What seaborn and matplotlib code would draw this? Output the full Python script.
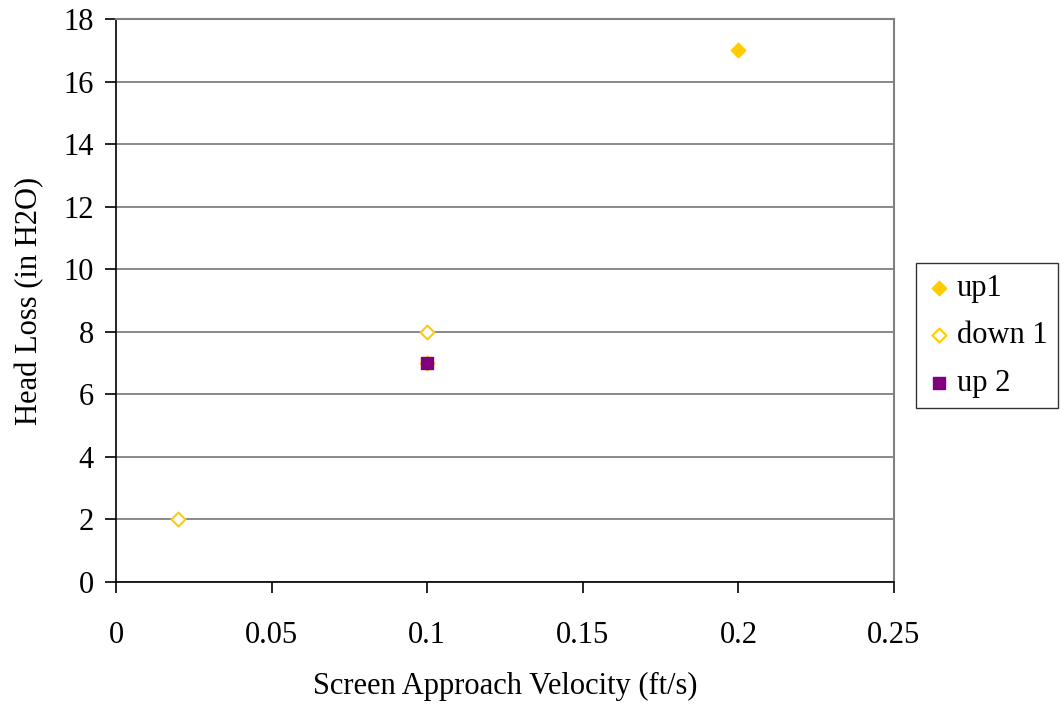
import numpy as np
import pandas as pd
import matplotlib
matplotlib.use('Agg')
import matplotlib.pyplot as plt
import seaborn as sns

sns.set_theme(style='white')
plt.rcParams['font.family'] = ['Liberation Serif', 'DejaVu Serif']
plt.rcParams['text.color'] = 'black'
plt.rcParams['axes.labelcolor'] = 'black'
plt.rcParams['xtick.color'] = 'black'
plt.rcParams['ytick.color'] = 'black'

# data
up1_x = [0.1, 0.2]
up1_y = [7, 17]
down1_x = [0.02, 0.1]
down1_y = [2, 8]
up2_x = [0.1]
up2_y = [7]

yellow = '#FFCC00'
purple = '#800080'

fig = plt.figure(figsize=(10.61, 7.04), dpi=100)
ax = fig.add_axes([0.1093, 0.1733, 0.8426 - 0.1093, 0.973 - 0.1733])

sns.scatterplot(x=up1_x, y=up1_y, ax=ax, marker='D', s=55, color=yellow,
                edgecolor=yellow, linewidth=1, label='up1', zorder=3)
sns.scatterplot(x=down1_x, y=down1_y, ax=ax, marker='D', s=50, facecolor='white',
                edgecolor=yellow, linewidth=1.5, label='down 1', zorder=3)
sns.scatterplot(x=up2_x, y=up2_y, ax=ax, marker='s', s=80, color=purple,
                edgecolor=purple, linewidth=1, label='up 2', zorder=4)

ax.set_xlim(0, 0.25)
ax.set_ylim(0, 18)
ax.set_xticks(np.arange(0, 0.26, 0.05))
ax.set_xticklabels(['0', '0.05', '0.1', '0.15', '0.2', '0.25'])
ax.set_yticks(np.arange(0, 19, 2))
ax.yaxis.grid(True, color='#808080', linewidth=1.3)
ax.set_axisbelow(True)

for side in ['top', 'right']:
    ax.spines[side].set_color('#808080')
    ax.spines[side].set_linewidth(1.5)
for side in ['left', 'bottom']:
    ax.spines[side].set_color('black')
    ax.spines[side].set_linewidth(1.2)

ax.tick_params(axis='both', direction='out', length=8, width=1.2, color='black',
               labelsize=22, bottom=True, left=True)
ax.tick_params(axis='x', pad=20)
ax.tick_params(axis='y', pad=8)
ax.set_xlabel('Screen Approach Velocity (ft/s)', fontsize=22, labelpad=16)
ax.set_ylabel('Head Loss (in H2O)', fontsize=22, labelpad=14)

ax.get_legend().remove()
handles, labels = ax.get_legend_handles_labels()
leg = fig.legend(handles, labels, loc='center left', bbox_to_anchor=(0.863, 0.523),
                 fontsize=22, frameon=True, fancybox=False, edgecolor='black',
                 handletextpad=0.2, handlelength=0.8, labelspacing=0.6,
                 borderpad=0.35, borderaxespad=0)
leg.get_frame().set_linewidth(1.0)

fig.savefig('out.png', dpi=100)
